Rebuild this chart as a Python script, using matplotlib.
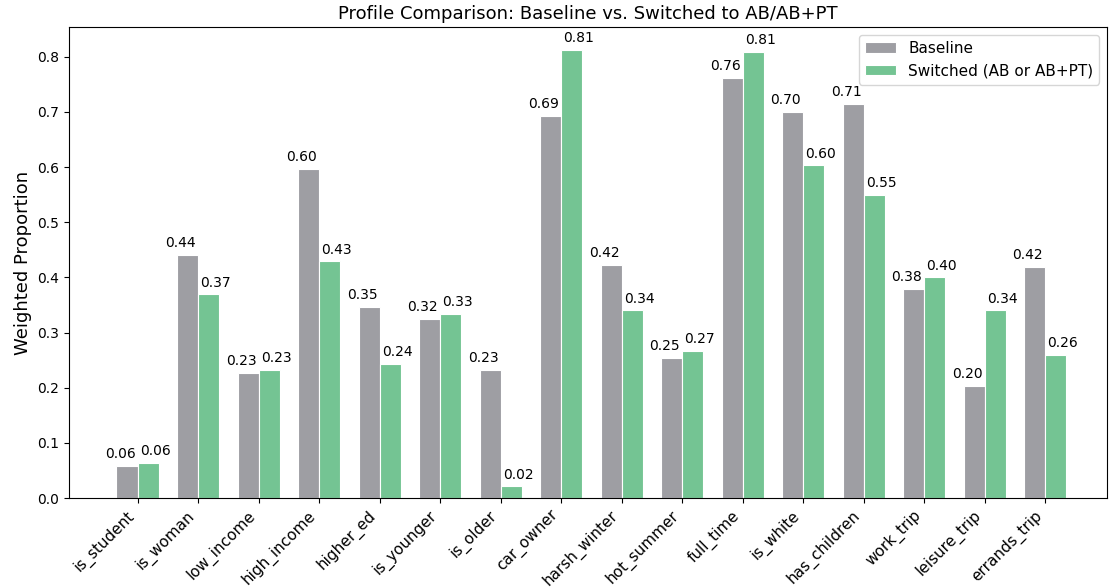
import matplotlib
matplotlib.use("Agg")
import matplotlib.pyplot as plt
import numpy as np

categories = ["is_student", "is_woman", "low_income", "high_income", "higher_ed",
              "is_younger", "is_older", "car_owner", "harsh_winter", "hot_summer",
              "full_time", "is_white", "has_children", "work_trip", "leisure_trip",
              "errands_trip"]
baseline = [0.058, 0.441, 0.227, 0.597, 0.347, 0.324, 0.232, 0.692, 0.422, 0.254,
            0.761, 0.700, 0.714, 0.379, 0.203, 0.419]
switched = [0.064, 0.369, 0.232, 0.429, 0.243, 0.334, 0.021, 0.813, 0.340, 0.266,
            0.809, 0.603, 0.550, 0.400, 0.340, 0.259]

fig, ax = plt.subplots(figsize=(11.1, 5.87), dpi=100)
fig.subplots_adjust(left=69/1110, right=1107/1110, top=1-27/587, bottom=1-498/587)
x = np.arange(len(categories))
w = 0.35
b1 = ax.bar(x - w/2, baseline, w, label="Baseline", color="#9e9ea3", edgecolor="white", linewidth=0.8)
b2 = ax.bar(x + w/2, switched, w, label="Switched (AB or AB+PT)", color="#74c493", edgecolor="white", linewidth=0.8)
for bars, dx in ((b1, -5), (b2, 5)):
    for r in bars:
        h = r.get_height()
        ax.annotate(f"{h:.2f}", (r.get_x() + r.get_width()/2, h), xytext=(dx, 3.5),
                    textcoords="offset points", ha="center", va="bottom", fontsize=10)
ax.set_xticks(x)
ax.set_xticklabels(categories, rotation=45, ha="right", fontsize=11)
ax.tick_params(axis="y", labelsize=10)
ax.set_ylabel("Weighted Proportion", fontsize=13)
ax.set_title("Profile Comparison: Baseline vs. Switched to AB/AB+PT", fontsize=13)
ax.set_xlim(-1.135, 16.02)
ax.set_ylim(0, 0.854)
ax.legend(fontsize=11, loc="upper right")
fig.savefig("out.png", dpi=100)
